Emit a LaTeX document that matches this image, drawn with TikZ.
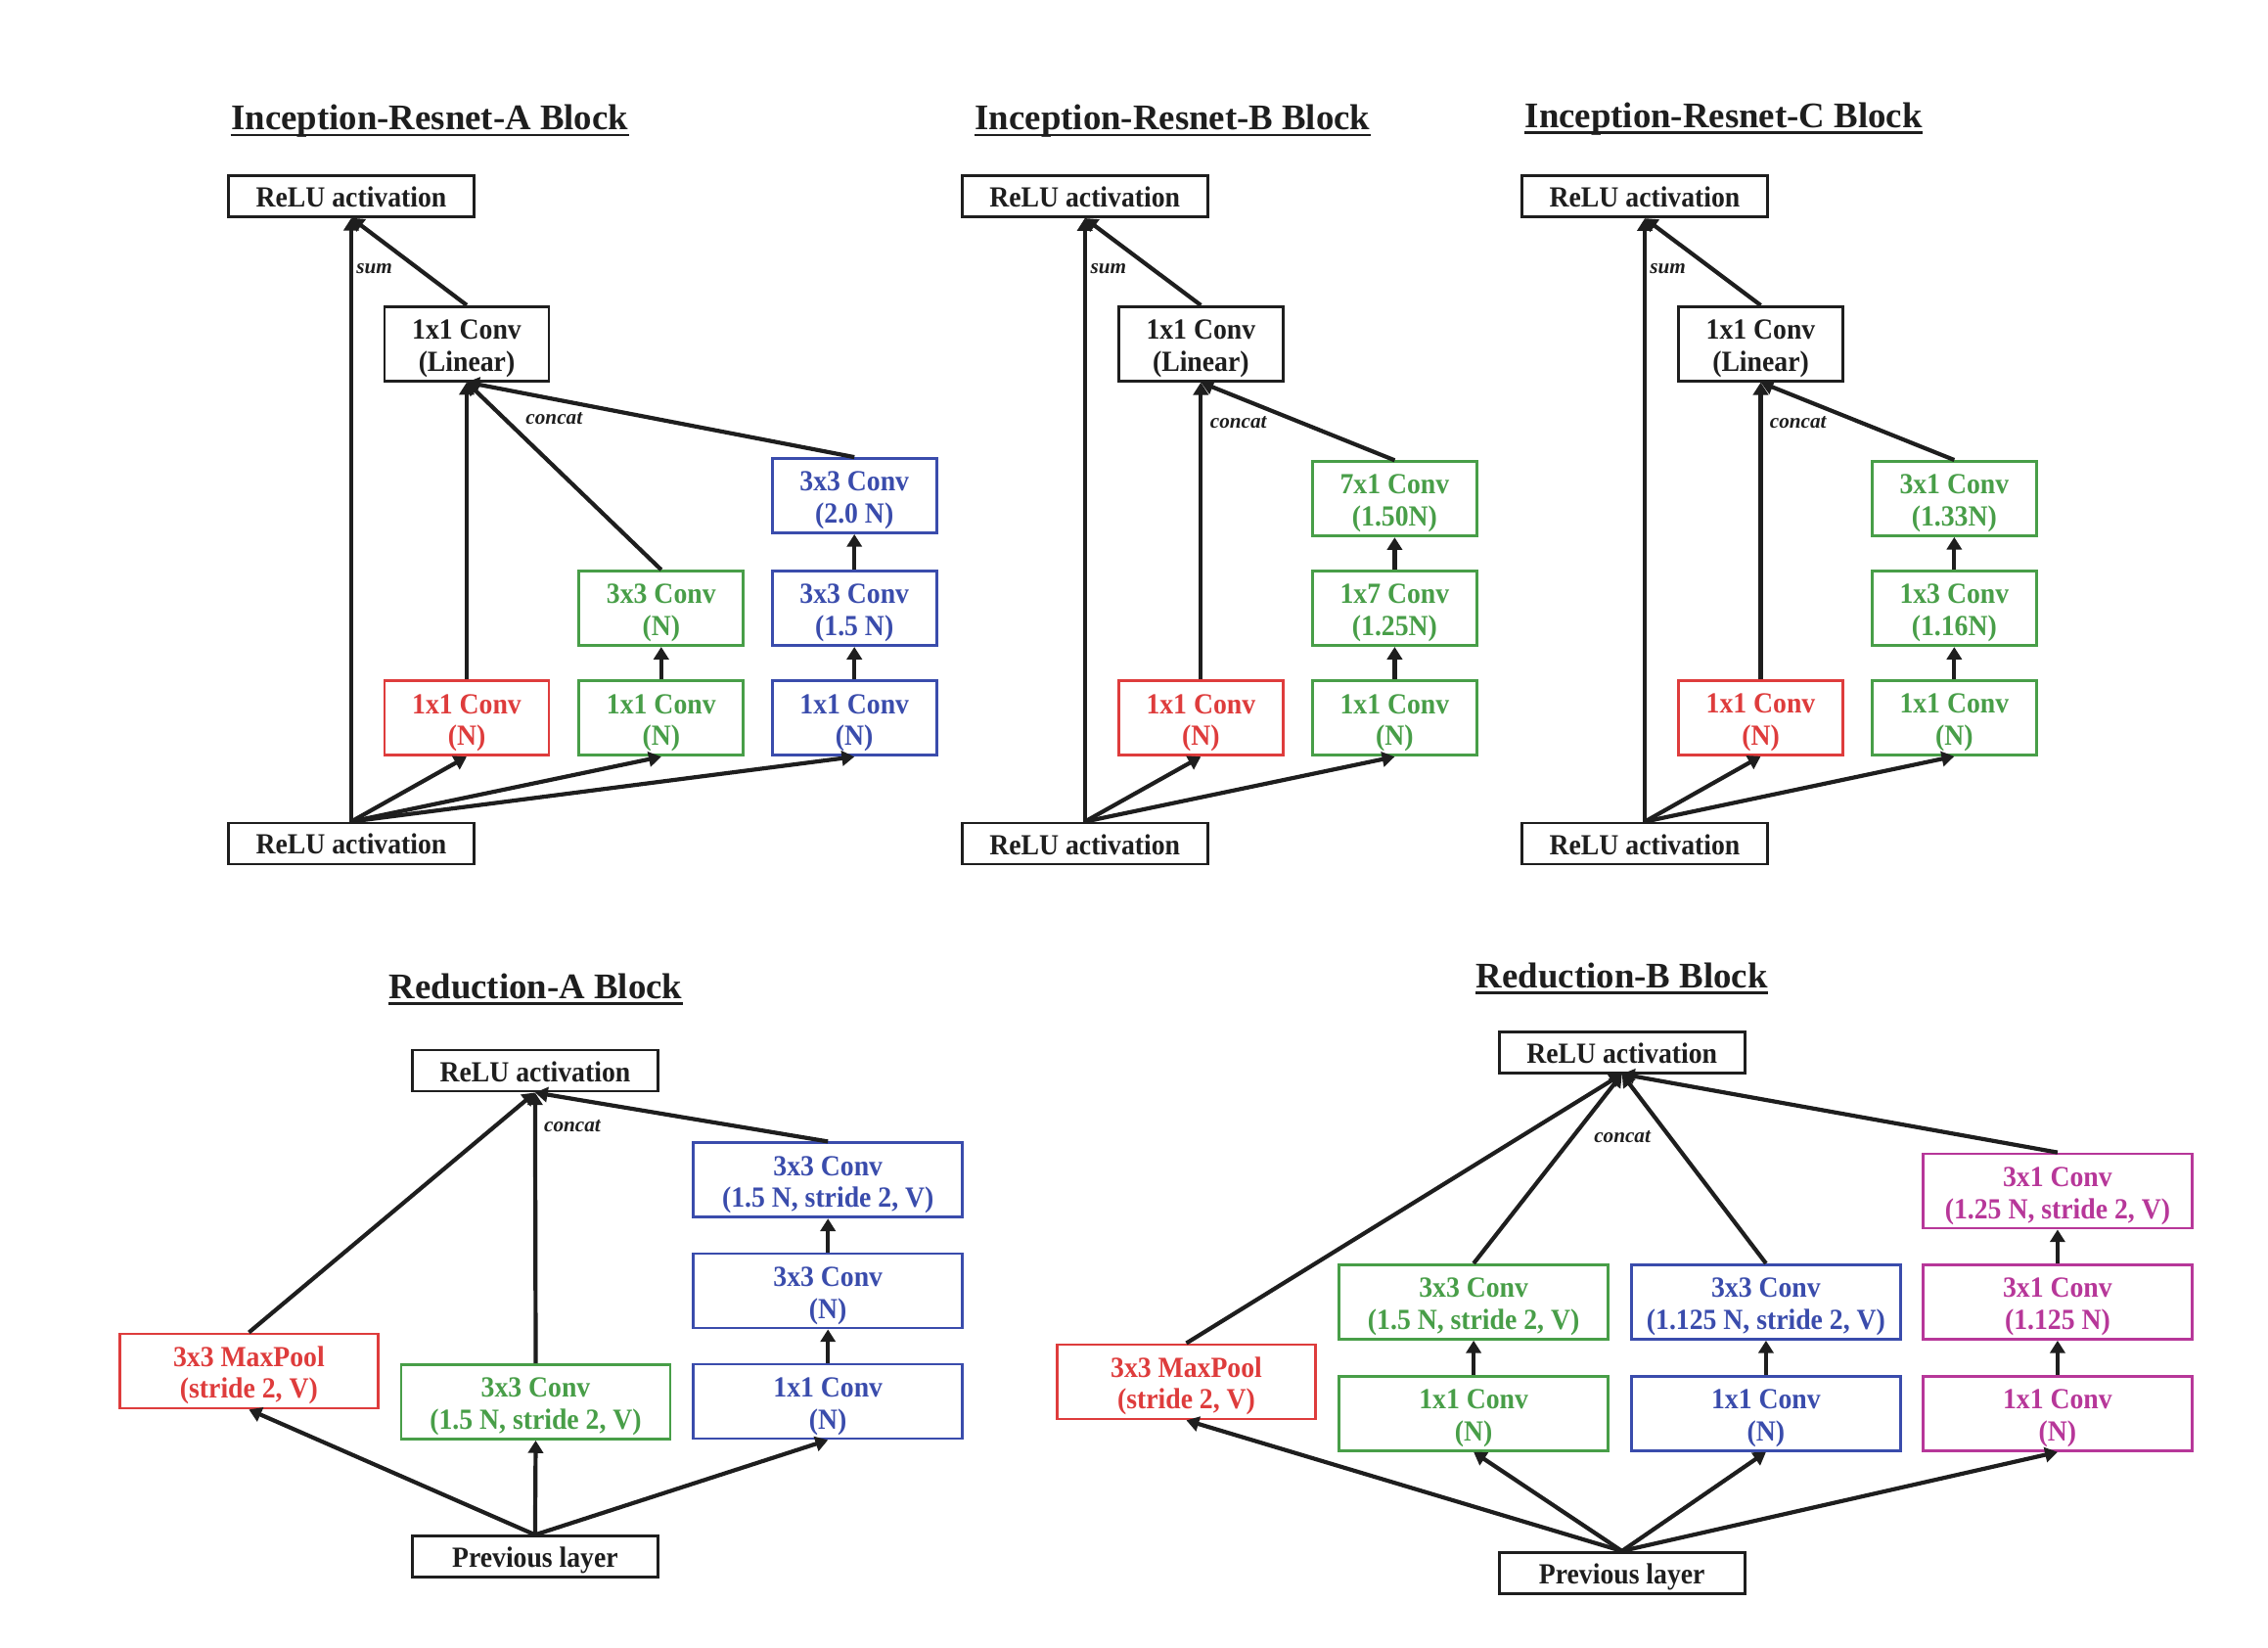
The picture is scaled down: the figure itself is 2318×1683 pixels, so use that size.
\documentclass[tikz,border=0pt]{standalone}
\usepackage{fontspec}
\setmainfont{Liberation Serif}
\newfontfamily\boxfont{Liberation Serif}[FakeStretch=0.93]
\usetikzlibrary{arrows.meta}
\definecolor{cred}{RGB}{222,60,60}
\definecolor{cgreen}{RGB}{72,158,72}
\definecolor{cblue}{RGB}{58,76,172}
\definecolor{cmag}{RGB}{183,55,153}
\definecolor{cink}{RGB}{30,30,30}
\newcommand\pxu{0.25pt}
\newcommand\bxs{\rule{0pt}{7.4pt}}
\tikzset{
 box/.style={draw=cink, line width=0.7pt, inner sep=0pt, align=center,
   minimum width=168*\pxu, minimum height=76*\pxu,
   font=\boxfont\bfseries\fontsize{7.45}{8.2}\selectfont, text=cink},
 relu/.style={box, minimum width=251*\pxu, minimum height=42*\pxu, text height=5.5pt, text depth=0pt},
 wide/.style={box, minimum width=275*\pxu},
 pool/.style={box, minimum width=264*\pxu},
 redb/.style={draw=cred, text=cred},
 greenb/.style={draw=cgreen, text=cgreen},
 blueb/.style={draw=cblue, text=cblue},
 magb/.style={draw=cmag, text=cmag},
 arr/.style={draw=cink, line width=1.05pt, -{Triangle[length=3.2pt,width=3.8pt]}},
 lbl/.style={font=\bfseries\itshape\fontsize{5.3}{6}\selectfont, text=cink, inner sep=0pt},
 ttl/.style={font=\bfseries\fontsize{9.2}{11}\selectfont, inner sep=0pt, anchor=base, text=cink},
 uline/.style={draw=cink, line width=0.7pt},
}
\begin{document}
\begin{tikzpicture}[x=0.25pt, y=-0.25pt]
\useasboundingbox (0,0) rectangle (2318,1683);

% ---------------- Inception-Resnet-A ----------------
\node[ttl] (tA) at (439.2,132.3) {Inception-Resnet-A Block};
\draw[uline] ([yshift=-1.4pt]tA.base west) -- ([yshift=-1.4pt]tA.base east);
\node[relu] (aTop) at (359,200.3) {ReLU activation};
\node[box] (aLin) at (477,351.2) {\bxs 1x1 Conv\\(Linear)};
\node[box,blueb] (aB3) at (873.2,506.5) {\bxs 3x3 Conv\\(2.0 N)};
\node[box,greenb] (aG2) at (675.8,621.6) {\bxs 3x3 Conv\\(N)};
\node[box,blueb] (aB2) at (873.2,621.6) {\bxs 3x3 Conv\\(1.5 N)};
\node[box,redb] (aR1) at (477,733.8) {\bxs 1x1 Conv\\(N)};
\node[box,greenb] (aG1) at (675.8,733.8) {\bxs 1x1 Conv\\(N)};
\node[box,blueb] (aB1) at (873.2,733.8) {\bxs 1x1 Conv\\(N)};
\node[relu] (aBot) at (359,861.9) {ReLU activation};
\node[lbl] (aSum) at (382.7,274.6) {sum};
\node[lbl] (aCat) at (566.3,427.8) {concat};
\draw[arr] (aBot.north) -- (aTop.south);
\draw[arr] (aLin.north) -- (aTop.south);
\draw[arr] (aR1.north) -- (aLin.south);
\draw[arr] (aG2.north) -- (aLin.south);
\draw[arr] (aB3.north) -- (aLin.south);
\draw[arr] (aG1.north) -- (aG2.south);
\draw[arr] (aB1.north) -- (aB2.south);
\draw[arr] (aB2.north) -- (aB3.south);
\draw[arr] (aBot.north) -- (aR1.south);
\draw[arr] (aBot.north) -- (aG1.south);
\draw[arr] (aBot.north) -- (aB1.south);

% ---------------- Inception-Resnet-B ----------------
\node[ttl] (tB) at (1198.5,132.3) {Inception-Resnet-B Block};
\draw[uline] ([yshift=-1.4pt]tB.base west) -- ([yshift=-1.4pt]tB.base east);
\node[relu] (bTop) at (1108.7,200.6) {ReLU activation};
\node[box] (bLin) at (1227.3,351.3) {\bxs 1x1 Conv\\(Linear)};
\node[box,greenb] (bG3) at (1425.4,509.7) {\bxs 7x1 Conv\\(1.50N)};
\node[box,greenb] (bG2) at (1425.4,621.6) {\bxs 1x7 Conv\\(1.25N)};
\node[box,redb] (bR1) at (1227.3,733.8) {\bxs 1x1 Conv\\(N)};
\node[box,greenb] (bG1) at (1425.4,733.8) {\bxs 1x1 Conv\\(N)};
\node[relu] (bBot) at (1108.7,862) {ReLU activation};
\node[lbl] (bSum) at (1132.9,275) {sum};
\node[lbl] (bCat) at (1265.7,431.7) {concat};
\draw[arr] (bBot.north) -- (bTop.south);
\draw[arr] (bLin.north) -- (bTop.south);
\draw[arr] (bR1.north) -- (bLin.south);
\draw[arr] (bG3.north) -- (bLin.south);
\draw[arr] (bG1.north) -- (bG2.south);
\draw[arr] (bG2.north) -- (bG3.south);
\draw[arr] (bBot.north) -- (bR1.south);
\draw[arr] (bBot.north) -- (bG1.south);

% ---------------- Inception-Resnet-C ----------------
\node[ttl] (tC) at (1761.6,130) {Inception-Resnet-C Block};
\draw[uline] ([yshift=-1.4pt]tC.base west) -- ([yshift=-1.4pt]tC.base east);
\node[relu] (cTop) at (1681,200.7) {ReLU activation};
\node[box] (cLin) at (1799.5,351.3) {\bxs 1x1 Conv\\(Linear)};
\node[box,greenb] (cG3) at (1997.3,509.4) {\bxs 3x1 Conv\\(1.33N)};
\node[box,greenb] (cG2) at (1997.3,621.7) {\bxs 1x3 Conv\\(1.16N)};
\node[box,redb] (cR1) at (1799.5,733.4) {\bxs 1x1 Conv\\(N)};
\node[box,greenb] (cG1) at (1997.3,733.4) {\bxs 1x1 Conv\\(N)};
\node[relu] (cBot) at (1681,862) {ReLU activation};
\node[lbl] (cSum) at (1704.6,275) {sum};
\node[lbl] (cCat) at (1837.7,431.6) {concat};
\draw[arr] (cBot.north) -- (cTop.south);
\draw[arr] (cLin.north) -- (cTop.south);
\draw[arr] (cR1.north) -- (cLin.south);
\draw[arr] (cG3.north) -- (cLin.south);
\draw[arr] (cG1.north) -- (cG2.south);
\draw[arr] (cG2.north) -- (cG3.south);
\draw[arr] (cBot.north) -- (cR1.south);
\draw[arr] (cBot.north) -- (cG1.south);

% ---------------- Reduction-A ----------------
\node[ttl] (tRA) at (547.5,1020) {Reduction-A Block};
\draw[uline] ([yshift=-1.4pt]tRA.base west) -- ([yshift=-1.4pt]tRA.base east);
\node[relu] (raTop) at (546.9,1094) {ReLU activation};
\node[wide,blueb] (raB3) at (846.2,1205.8) {\bxs 3x3 Conv\\(1.5 N, stride 2, V)};
\node[wide,blueb] (raB2) at (846.2,1319) {\bxs 3x3 Conv\\(N)};
\node[wide,blueb] (raB1) at (846.2,1432) {\bxs 1x1 Conv\\(N)};
\node[pool,redb] (raMax) at (254.4,1400.9) {\bxs 3x3 MaxPool\\(stride 2, V)};
\node[wide,greenb] (raG) at (547.5,1432.5) {\bxs 3x3 Conv\\(1.5 N, stride 2, V)};
\node[relu] (raPrev) at (546.9,1590.7) {Previous layer};
\node[lbl] (raCat) at (585,1150.5) {concat};
\draw[arr] (raMax.north) -- (raTop.south);
\draw[arr] (raG.north) -- (raTop.south);
\draw[arr] (raB3.north) -- (raTop.south);
\draw[arr] (raB1.north) -- (raB2.south);
\draw[arr] (raB2.north) -- (raB3.south);
\draw[arr] (raPrev.north) -- (raMax.south);
\draw[arr] (raPrev.north) -- (raG.south);
\draw[arr] (raPrev.north) -- (raB1.south);

% ---------------- Reduction-B ----------------
\node[ttl] (tRB) at (1657.7,1009) {Reduction-B Block};
\draw[uline] ([yshift=-1.4pt]tRB.base west) -- ([yshift=-1.4pt]tRB.base east);
\node[relu] (rbTop) at (1657.7,1075.1) {ReLU activation};
\node[wide,magb] (rbM3) at (2102.9,1217) {\bxs 3x1 Conv\\(1.25 N, stride 2, V)};
\node[wide,greenb] (rbG2) at (1506.1,1330.4) {\bxs 3x3 Conv\\(1.5 N, stride 2, V)};
\node[wide,blueb] (rbB2) at (1804.9,1330.4) {\bxs 3x3 Conv\\(1.125 N, stride 2, V)};
\node[wide,magb] (rbM2) at (2102.9,1330.4) {\bxs 3x1 Conv\\(1.125 N)};
\node[pool,redb] (rbMax) at (1212.5,1411.9) {\bxs 3x3 MaxPool\\(stride 2, V)};
\node[wide,greenb] (rbG1) at (1506.1,1444.3) {\bxs 1x1 Conv\\(N)};
\node[wide,blueb] (rbB1) at (1804.9,1444.3) {\bxs 1x1 Conv\\(N)};
\node[wide,magb] (rbM1) at (2102.9,1444.3) {\bxs 1x1 Conv\\(N)};
\node[relu] (rbPrev) at (1657.7,1607.3) {Previous layer};
\node[lbl] (rbCat) at (1658.1,1161.2) {concat};
\draw[arr] (rbMax.north) -- (rbTop.south);
\draw[arr] (rbG2.north) -- (rbTop.south);
\draw[arr] (rbB2.north) -- (rbTop.south);
\draw[arr] (rbM3.north) -- (rbTop.south);
\draw[arr] (rbG1.north) -- (rbG2.south);
\draw[arr] (rbB1.north) -- (rbB2.south);
\draw[arr] (rbM1.north) -- (rbM2.south);
\draw[arr] (rbM2.north) -- (rbM3.south);
\draw[arr] (rbPrev.north) -- (rbMax.south);
\draw[arr] (rbPrev.north) -- (rbG1.south);
\draw[arr] (rbPrev.north) -- (rbB1.south);
\draw[arr] (rbPrev.north) -- (rbM1.south);
\end{tikzpicture}
\end{document}
